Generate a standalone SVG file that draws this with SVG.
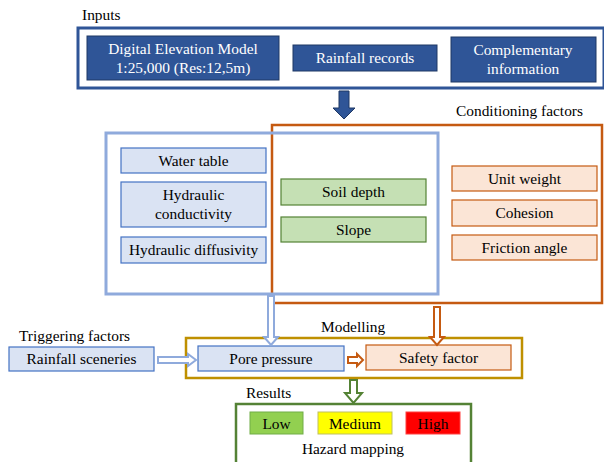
<svg xmlns="http://www.w3.org/2000/svg" width="604" height="462" viewBox="0 0 604 462">
  <style>
    text { font-family: "Liberation Serif", "Times New Roman", serif; font-size: 15.4px; fill: #000; }
    .c { text-anchor: middle; }
    .w { fill: #fff; }
    .frame { fill: none; }
    .dark { fill: #2f5597; stroke: #1f3864; stroke-width: 1; }
    .lb { fill: #dae3f3; stroke: #4472c4; stroke-width: 1.2; }
    .gr { fill: #c5e0b4; stroke: #548235; stroke-width: 1.2; }
    .or { fill: #fbe5d6; stroke: #c55a11; stroke-width: 1.2; }
    .arr-lb { fill: #fff; stroke: #8faadc; stroke-width: 2; stroke-linejoin: miter; }
    .arr-or { fill: #fff; stroke: #c55a11; stroke-width: 2; stroke-linejoin: miter; }
    .arr-gr { fill: #fff; stroke: #548235; stroke-width: 2; stroke-linejoin: miter; }
  </style>

  <rect width="604" height="462" fill="#fff"/>

  <!-- Inputs -->
  <g id="inputs">
    <text x="82" y="20">Inputs</text>
    <rect class="frame" x="78" y="28" width="526" height="60" stroke="#2f5597" stroke-width="3"/>
  </g>
  <g id="dem">
    <rect class="dark" x="87" y="36" width="192" height="44"/>
    <text class="c w" x="183" y="54">Digital Elevation Model</text>
    <text class="c w" x="183" y="73">1:25,000 (Res:12,5m)</text>
  </g>
  <g id="rainfall-records">
    <rect class="dark" x="293" y="45" width="144" height="26"/>
    <text class="c w" x="365" y="63">Rainfall records</text>
  </g>
  <g id="complementary">
    <rect class="dark" x="451" y="37" width="145" height="45"/>
    <text class="c w" x="523" y="55">Complementary</text>
    <text class="c w" x="523" y="74">information</text>
  </g>

  <!-- Conditioning factors -->
  <g id="conditioning">
    <text x="456" y="116">Conditioning factors</text>
    <rect class="frame" x="272" y="125" width="330" height="178" stroke="#c55a11" stroke-width="2.5"/>
  </g>
  <g id="hydraulic-group">
    <rect class="frame" x="106" y="133" width="332" height="161" stroke="#8faadc" stroke-width="3"/>
  </g>
  <g id="water-table">
    <rect class="lb" x="121" y="148" width="145" height="25"/>
    <text class="c" x="193.5" y="166">Water table</text>
  </g>
  <g id="hydraulic-conductivity">
    <rect class="lb" x="121" y="182" width="145" height="45"/>
    <text class="c" x="193.5" y="200">Hydraulic</text>
    <text class="c" x="193.5" y="219">conductivity</text>
  </g>
  <g id="hydraulic-diffusivity">
    <rect class="lb" x="121" y="237" width="145" height="26"/>
    <text class="c" x="193.5" y="255">Hydraulic diffusivity</text>
  </g>
  <g id="soil-depth">
    <rect class="gr" x="281" y="179" width="145" height="26"/>
    <text class="c" x="353.5" y="197">Soil depth</text>
  </g>
  <g id="slope">
    <rect class="gr" x="281" y="217" width="145" height="25"/>
    <text class="c" x="353.5" y="235">Slope</text>
  </g>
  <g id="unit-weight">
    <rect class="or" x="452" y="166" width="145" height="25"/>
    <text class="c" x="524.5" y="184">Unit weight</text>
  </g>
  <g id="cohesion">
    <rect class="or" x="452" y="200" width="145" height="26"/>
    <text class="c" x="524.5" y="218">Cohesion</text>
  </g>
  <g id="friction-angle">
    <rect class="or" x="452" y="235" width="145" height="25"/>
    <text class="c" x="524.5" y="253">Friction angle</text>
  </g>

  <!-- Triggering factors -->
  <g id="triggering">
    <text x="19" y="341">Triggering factors</text>
    <rect class="lb" x="9" y="347" width="145" height="24"/>
    <text class="c" x="81.5" y="364">Rainfall sceneries</text>
  </g>

  <!-- Modelling -->
  <g id="modelling">
    <text x="321" y="332">Modelling</text>
    <rect class="frame" x="186" y="338" width="336" height="40" stroke="#bf9000" stroke-width="2.5"/>
  </g>
  <g id="pore-pressure">
    <rect class="lb" x="198" y="346" width="146" height="25"/>
    <text class="c" x="271" y="364">Pore pressure</text>
  </g>
  <g id="safety-factor">
    <rect class="or" x="366" y="345" width="145" height="25"/>
    <text class="c" x="438.5" y="363">Safety factor</text>
  </g>

  <!-- Results -->
  <g id="results">
    <text x="246" y="398">Results</text>
    <rect class="frame" x="236" y="404" width="235" height="70" stroke="#548235" stroke-width="2.5"/>
    <text class="c" x="353" y="454">Hazard mapping</text>
  </g>
  <g id="low">
    <rect x="250" y="412" width="53" height="22" fill="#92d050" stroke="#70ad47" stroke-width="1"/>
    <text class="c" x="276.5" y="429">Low</text>
  </g>
  <g id="medium">
    <rect x="318" y="412" width="74" height="22" fill="#ffff00" stroke="#bfbf60" stroke-width="1"/>
    <text class="c" x="355" y="429">Medium</text>
  </g>
  <g id="high">
    <rect x="406" y="412" width="54" height="22" fill="#ff0000" stroke="#ff4040" stroke-width="1"/>
    <text class="c" x="433" y="429">High</text>
  </g>

  <!-- Connectors -->
  <g id="connectors">
    <!-- Inputs to conditioning factors -->
    <polygon points="339,91 349,91 349,108 355,108 344,119 333,108 339,108" fill="#2f5597" stroke="#1f3864" stroke-width="1"/>
    <!-- Hydraulic group to pore pressure -->
    <polygon class="arr-lb" points="268,296 274,296 274,337 278,337 271,345 264,337 268,337"/>
    <!-- Conditioning factors to safety factor -->
    <polygon class="arr-or" points="434,307 440,307 440,337 444,337 437,345 430,337 434,337"/>
    <!-- Rainfall sceneries to pore pressure -->
    <polygon class="arr-lb" points="158,357 188,357 188,354 196,360 188,366 188,363 158,363"/>
    <!-- Pore pressure to safety factor -->
    <polygon class="arr-or" points="348,357 357,357 357,354 363,360 357,366 357,363 348,363"/>
    <!-- Modelling to results -->
    <polygon class="arr-gr" points="350,380 357,380 357,393 362,393 353.5,403 345,393 350,393"/>
  </g>
</svg>
